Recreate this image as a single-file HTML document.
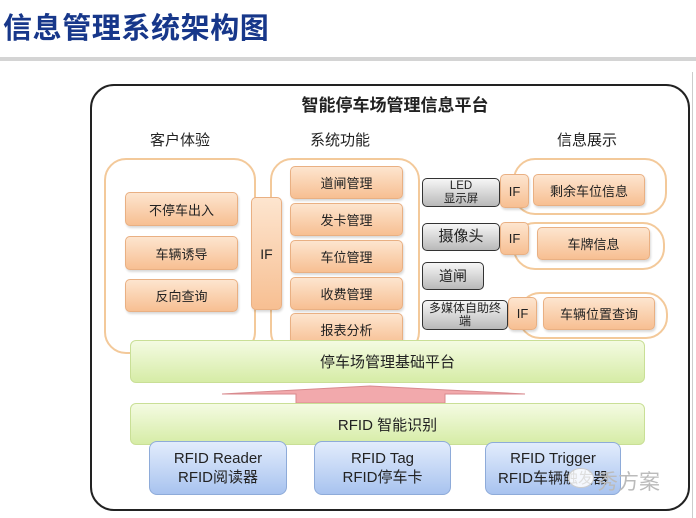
<!DOCTYPE html>
<html><head><meta charset="utf-8"><style>
*{margin:0;padding:0;box-sizing:border-box}
body{width:696px;height:518px;background:#fff;position:relative;overflow:hidden;font-family:"Liberation Sans","Noto Sans CJK SC",sans-serif;color:#222}
.a{position:absolute}
.t{display:flex;align-items:center;justify-content:center;text-align:center}
.cont{position:absolute;border:2px solid #f3c99a;border-radius:22px;background:#fff}
.or{position:absolute;display:flex;align-items:center;justify-content:center;text-align:center;border:1px solid #e9b083;border-radius:5px;background:linear-gradient(#fde5cf,#f7bf92);font-size:13px;box-shadow:1px 2px 2px rgba(0,0,0,.15)}
.gr{position:absolute;display:flex;align-items:center;justify-content:center;text-align:center;border:1.5px solid #333;border-radius:5px;background:linear-gradient(#f6f6f6,#b9b9b9);line-height:1.05}
.gn{position:absolute;display:flex;align-items:center;justify-content:center;border:1px solid #c9df96;border-radius:6px;background:linear-gradient(#f4fbe2,#d6eca6);font-size:15px}
.bl{position:absolute;display:flex;align-items:center;justify-content:center;text-align:center;border:1px solid #8eabd9;border-radius:8px;background:linear-gradient(#e2ecfc,#a8c3ef);font-size:15px;line-height:1.3}
</style></head><body>
<div class="a" style="left:3px;top:5px;font-size:29px;font-weight:bold;color:#17378a;letter-spacing:0.6px">信息管理系统架构图</div>
<div class="a" style="left:0;top:57px;width:696px;height:4px;background:#d4d4d4"></div>
<div class="a" style="left:692px;top:72px;width:1px;height:446px;background:#ccc"></div>
<div class="a" style="left:90px;top:84px;width:600px;height:427px;border:2px solid #222;border-radius:24px"></div>
<div class="a t" style="left:200px;top:92px;width:390px;height:22px;font-size:17px;font-weight:bold">智能停车场管理信息平台</div>
<div class="a" style="left:150px;top:129px;font-size:15px">客户体验</div>
<div class="a" style="left:310px;top:129px;font-size:15px">系统功能</div>
<div class="a" style="left:557px;top:129px;font-size:15px">信息展示</div>

<div class="cont" style="left:104px;top:158px;width:152px;height:196px"></div>
<div class="cont" style="left:270px;top:158px;width:150px;height:196px"></div>
<div class="or" style="left:125px;top:192px;width:113px;height:34px">不停车出入</div>
<div class="or" style="left:125px;top:236px;width:113px;height:34px">车辆诱导</div>
<div class="or" style="left:125px;top:279px;width:113px;height:33px">反向查询</div>
<div class="or" style="left:251px;top:197px;width:31px;height:113px;font-size:14px">IF</div>
<div class="or" style="left:290px;top:166px;width:113px;height:33px">道闸管理</div>
<div class="or" style="left:290px;top:203px;width:113px;height:33px">发卡管理</div>
<div class="or" style="left:290px;top:240px;width:113px;height:33px">车位管理</div>
<div class="or" style="left:290px;top:277px;width:113px;height:33px">收费管理</div>
<div class="or" style="left:290px;top:313px;width:113px;height:33px">报表分析</div>

<div class="cont" style="left:513px;top:158px;width:154px;height:57px"></div>
<div class="cont" style="left:513px;top:222px;width:152px;height:48px"></div>
<div class="cont" style="left:518px;top:292px;width:150px;height:47px"></div>
<div class="gr" style="left:422px;top:178px;width:78px;height:29px;font-size:11.5px">LED<br>显示屏</div>
<div class="or" style="left:500px;top:174px;width:29px;height:34px;font-size:13px">IF</div>
<div class="or" style="left:533px;top:174px;width:112px;height:32px">剩余车位信息</div>
<div class="gr" style="left:422px;top:223px;width:78px;height:28px;font-size:15px">摄像头</div>
<div class="or" style="left:500px;top:222px;width:29px;height:33px;font-size:13px">IF</div>
<div class="or" style="left:537px;top:227px;width:113px;height:33px">车牌信息</div>
<div class="gr" style="left:422px;top:262px;width:62px;height:28px;font-size:14px">道闸</div>
<div class="gr" style="left:422px;top:300px;width:86px;height:30px;font-size:12px">多媒体自助终<br>端</div>
<div class="or" style="left:508px;top:297px;width:29px;height:33px;font-size:13px">IF</div>
<div class="or" style="left:543px;top:297px;width:112px;height:33px">车辆位置查询</div>

<div class="gn" style="left:130px;top:340px;width:515px;height:43px">停车场管理基础平台</div>
<svg class="a" style="left:0;top:0" width="696" height="518"><polygon points="222,394 370,386 525,394 445,394 445,403 296,403 296,394" fill="#f2a9ac" stroke="#d88a8e" stroke-width="1"/></svg>
<div class="gn" style="left:130px;top:403px;width:515px;height:42px">RFID 智能识别</div>
<div class="bl" style="left:149px;top:441px;width:138px;height:54px">RFID Reader<br>RFID阅读器</div>
<div class="bl" style="left:314px;top:441px;width:137px;height:54px">RFID Tag<br>RFID停车卡</div>
<div class="bl" style="left:485px;top:442px;width:136px;height:53px">RFID Trigger<br>RFID车辆触发器</div>
<div class="a" style="left:568px;top:468px;width:26px;height:20px;border-radius:50%;background:rgba(255,255,255,.85);border:1px solid #ccc"></div>
<div class="a" style="left:597px;top:466px;font-size:21px;color:#bbb">秀方案</div>
</body></html>
